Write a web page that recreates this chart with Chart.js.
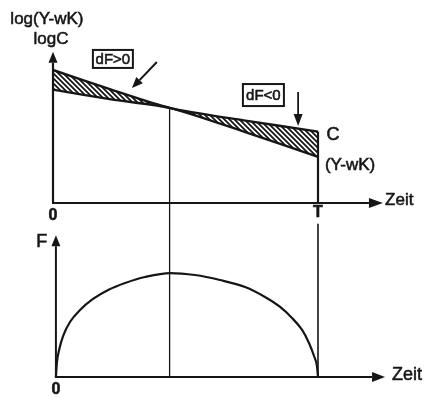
<!DOCTYPE html>
<html>
<head>
<meta charset="utf-8">
<script src="https://cdn.jsdelivr.net/npm/chart.js@4.4.1/dist/chart.umd.min.js"></script>
<style>
  html, body { margin: 0; padding: 0; background: #fff; }
  canvas { display: block; }
</style>
</head>
<body>
<canvas id="chart" width="424" height="398"></canvas>
<script>
// Zeitachse: 0 .. T  (T = 1)
const zeitOben = [0, 0.22, 0.44, 0.72, 1];
const logC     = [9.5, 8.1, 6.8, 5.9, 5.1];
const logYwK   = [8.1, 7.4, 6.8, 5.1, 3.3];

// unteres Bild: F(t)
const zeitUnten = [0.011, 0.015, 0.023, 0.038, 0.064, 0.102, 0.151, 0.208, 0.272, 0.347, 0.442,
                   0.536, 0.630, 0.725, 0.800, 0.857, 0.902, 0.940, 0.966, 0.985, 0.996, 1];
const wertF     = [0, 0.143, 0.257, 0.390, 0.524, 0.638, 0.743, 0.829, 0.895, 0.952, 0.990,
                   0.971, 0.924, 0.857, 0.762, 0.667, 0.562, 0.448, 0.324, 0.200, 0.105, 0];

const tSchnitt = 0.44;      // Schnittpunkt der Kurven
const tickLabels = ['0', 'T'];

const SCHWARZ = '#161616';
const SCHRIFT = '"Liberation Sans", Arial, Helvetica, sans-serif';

// Schraffur  \\\\
function schraffur() {
  const s = 5;
  const c = document.createElement('canvas');
  c.width = s; c.height = s;
  const g = c.getContext('2d');
  g.strokeStyle = SCHWARZ;
  g.lineWidth = 1.8;
  g.beginPath();
  g.moveTo(0, 0); g.lineTo(s, s);
  g.moveTo(-1, s - 1); g.lineTo(1, s + 1);
  g.moveTo(s - 1, -1); g.lineTo(s + 1, 1);
  g.stroke();
  return g.createPattern(c, 'repeat');
}
const muster = schraffur();

function pfeil(ctx, x1, y1, x2, y2, len, breite, lw) {
  const a = Math.atan2(y2 - y1, x2 - x1);
  const bx = x2 - Math.cos(a) * len, by = y2 - Math.sin(a) * len;
  ctx.lineWidth = lw;
  ctx.beginPath();
  ctx.moveTo(x1, y1); ctx.lineTo(bx, by);
  ctx.stroke();
  ctx.beginPath();
  ctx.moveTo(x2, y2);
  ctx.lineTo(bx + Math.sin(a) * breite, by - Math.cos(a) * breite);
  ctx.lineTo(bx - Math.sin(a) * breite, by + Math.cos(a) * breite);
  ctx.closePath();
  ctx.fill();
}

// etwas kräftigere Schrift wie im Scan
function text(ctx, t, x, y) {
  ctx.lineWidth = 0.55;
  ctx.fillText(t, x, y);
  ctx.strokeText(t, x, y);
}

const achsenPlugin = {
  id: 'achsen',
  afterDatasetsDraw(chart) {
    const ctx = chart.ctx;
    const sx = chart.scales.x, so = chart.scales.yTop, su = chart.scales.yBot;
    const X = v => sx.getPixelForValue(v);
    const O = v => so.getPixelForValue(v);
    const U = v => su.getPixelForValue(v);
    ctx.save();
    ctx.strokeStyle = SCHWARZ;
    ctx.fillStyle = SCHWARZ;
    ctx.lineCap = 'butt';

    // senkrechte Linie im Schnittpunkt
    ctx.lineWidth = 1.3;
    ctx.beginPath();
    ctx.moveTo(X(tSchnitt), O(logC[2]));
    ctx.lineTo(X(tSchnitt), U(0));
    ctx.stroke();

    // Linie bei T
    ctx.lineWidth = 2.2;
    ctx.beginPath();
    ctx.moveTo(X(1), O(logC[logC.length - 1]));
    ctx.lineTo(X(1), O(0));
    ctx.stroke();
    ctx.lineWidth = 1.6;
    ctx.beginPath();
    ctx.moveTo(X(1), U(1.46));
    ctx.lineTo(X(1), U(0));
    ctx.stroke();

    // Achsen oben
    pfeil(ctx, X(0), O(0), X(0), O(10.8), 11, 4.5, 2.2);
    pfeil(ctx, X(0) - 1, O(0), X(1.245), O(0), 14, 5, 2.2);
    // Achsen unten
    pfeil(ctx, X(0.011), U(0), X(0.011), U(1.35), 11, 4.5, 2);
    pfeil(ctx, X(0.011) - 1, U(0), X(1.253), U(0), 13, 5, 2);

    // Hinweis-Pfeile
    pfeil(ctx, X(0.392), O(10.07), X(0.298), O(8.21), 11, 4.5, 2);
    pfeil(ctx, X(0.925), O(7.93), X(0.925), O(5.5), 12, 4.5, 1.8);

    // Beschriftung
    ctx.textBaseline = 'middle';
    ctx.textAlign = 'center';
    ctx.font = '17px ' + SCHRIFT;
    text(ctx, 'log(Y-wK)', X(-0.023), O(13.14));
    text(ctx, 'logC', X(-0.0075), O(11.71));
    ctx.font = 'bold 16px ' + SCHRIFT;
    text(ctx, tickLabels[0], X(0), O(-0.93));
    text(ctx, tickLabels[0], X(0.011), U(-0.124));
    text(ctx, tickLabels[1], X(1), O(-0.66));
    ctx.font = '18px ' + SCHRIFT;
    text(ctx, 'F', X(-0.042), U(1.286));
    text(ctx, 'C', X(1.057), O(4.86));
    ctx.textAlign = 'left';
    ctx.font = '17px ' + SCHRIFT;
    text(ctx, 'Zeit', X(1.253), O(0.2));
    text(ctx, '(Y-wK)', X(1.026), O(2.71));
    ctx.font = '18px ' + SCHRIFT;
    text(ctx, 'Zeit', X(1.279), U(0.02));

    // Kästchen
    ctx.textAlign = 'center';
    ctx.font = '15px ' + SCHRIFT;
    [['dF>0', 0.226, 10.29, 40, 18], ['dF<0', 0.794, 7.71, 41, 22]].forEach(([t, x, y, w, h]) => {
      const cx = X(x), cy = O(y);
      ctx.lineWidth = 2;
      ctx.strokeRect(cx - w / 2, cy - h / 2, w, h);
      text(ctx, t, cx, cy + 1);
    });
    ctx.restore();
  }
};

new Chart(document.getElementById('chart'), {
  type: 'line',
  data: {
    datasets: [
      {
        label: 'C',
        data: zeitOben.map((t, i) => ({ x: t, y: logC[i] })),
        yAxisID: 'yTop',
        borderColor: SCHWARZ,
        borderWidth: 2.4,
        pointRadius: 0,
        tension: 0.25,
        fill: false
      },
      {
        label: 'Y-wK',
        data: zeitOben.map((t, i) => ({ x: t, y: logYwK[i] })),
        yAxisID: 'yTop',
        borderColor: SCHWARZ,
        borderWidth: 2.4,
        pointRadius: 0,
        tension: 0.25,
        backgroundColor: muster,
        fill: { target: 0, above: muster, below: muster }
      },
      {
        label: 'F',
        data: zeitUnten.map((t, i) => ({ x: t, y: wertF[i] })),
        yAxisID: 'yBot',
        borderColor: SCHWARZ,
        borderWidth: 2.2,
        pointRadius: 0,
        cubicInterpolationMode: 'monotone',
        fill: false
      }
    ]
  },
  options: {
    responsive: false,
    devicePixelRatio: 1,
    animation: false,
    layout: { padding: 0 },
    plugins: { legend: { display: false }, tooltip: { enabled: false } },
    scales: {
      x: { type: 'linear', min: -0.2, max: 1.4, display: false },
      yTop: { type: 'linear', min: -13.93, max: 14.5, display: false },
      yBot: { type: 'linear', min: -0.2, max: 3.59, display: false }
    }
  },
  plugins: [achsenPlugin]
});
</script>
</body>
</html>
